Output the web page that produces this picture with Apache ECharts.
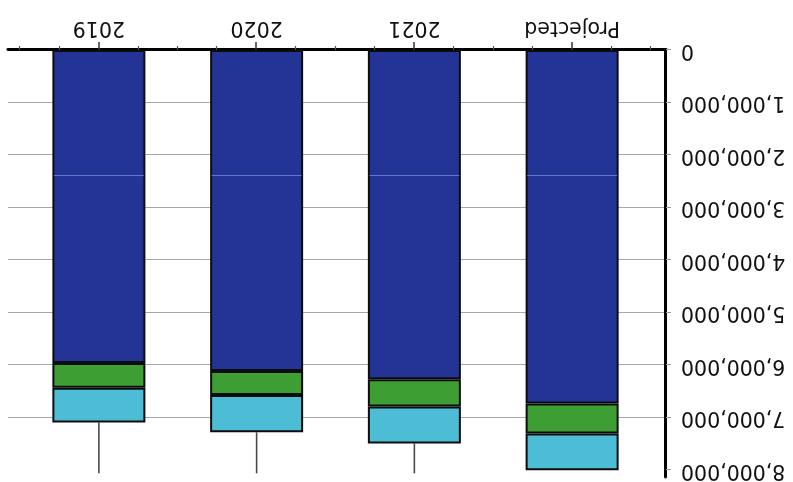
<!DOCTYPE html>
<html>
<head>
<meta charset="utf-8">
<script src="https://cdn.jsdelivr.net/npm/echarts@6/dist/echarts.min.js"></script>
<style>
html,body{margin:0;padding:0;background:#fff;}
#chart{width:793px;height:482px;transform:rotate(180deg);background:#fff;}
</style>
</head>
<body>
<div id="chart"></div>
<script>
// Data (drawn in the chart's own orientation; the whole picture is shown rotated 180°)
const categories = ['Projected', '2021', '2020', '2019'];
const blueValues  = [6730000, 6270000, 6110000, 5960000];
const greenValues = [570000, 520000, 460000, 470000];
const cyanValues  = [700000, 700000, 710000, 660000];
const whiskerTop  = [null, 8060000, 8060000, 8060000];
const faintLineValue = [2390000, 2390000, 2390000, 2390000];
const yTicks = [0, 1000000, 2000000, 3000000, 4000000, 5000000, 6000000, 7000000, 8000000];

const idx = categories.map((c, i) => i);
const totals = idx.map(i => blueValues[i] + greenValues[i] + cyanValues[i]);
const minorTicks = [];
idx.forEach(i => { minorTicks.push(i - 0.5, i - 0.25, i + 0.25); });
minorTicks.push(categories.length - 0.5);

const FONT = 'DejaVu Sans';
const FS = 20.5;
const Y_MAX = 8130000;
const X_MIN = -0.595, X_MAX = 3.576;
const barStyle = (color) => ({ color: color, borderColor: '#0d0d0d', borderWidth: 2 });

const chart = echarts.init(document.getElementById('chart'), null, { renderer: 'canvas' });
chart.setOption({
  animation: false,
  backgroundColor: '#fff',
  grid: [
    { left: 127, right: 8, top: 5, bottom: 50, containLabel: false, outerBoundsMode: 'none' },
    { left: 142, right: 20, top: 5, bottom: 50, containLabel: false, outerBoundsMode: 'none' }
  ],
  xAxis: [
    {
      type: 'value', gridIndex: 0, min: X_MIN, max: X_MAX, position: 'bottom',
      axisLine: { show: true, onZero: false, lineStyle: { color: '#000', width: 3 } },
      axisTick: { show: true, length: 8, customValues: idx, lineStyle: { color: '#333', width: 1.5 } },
      axisLabel: { customValues: idx, formatter: v => categories[Math.round(v)], fontSize: FS, fontFamily: FONT, color: '#111', margin: 12 },
      splitLine: { show: false }
    },
    {
      type: 'value', gridIndex: 0, min: X_MIN, max: X_MAX, position: 'bottom', offset: 0,
      axisLine: { show: false, onZero: false },
      axisTick: { show: true, length: 4, customValues: minorTicks, lineStyle: { color: '#555', width: 1.2 } },
      axisLabel: { show: false },
      splitLine: { show: false }
    },
    {
      type: 'category', gridIndex: 1, data: categories, position: 'bottom',
      axisLine: { show: false }, axisTick: { show: false }, axisLabel: { show: false }, splitLine: { show: false }
    }
  ],
  yAxis: [
    {
      type: 'value', gridIndex: 0, min: 0, max: Y_MAX, interval: 1000000,
      axisLine: { show: true, onZero: false, lineStyle: { color: '#000', width: 3 } },
      axisTick: { show: true, length: 5, customValues: yTicks, lineStyle: { color: '#999', width: 1 } },
      axisLabel: { customValues: yTicks, formatter: v => v.toLocaleString('en-US'), fontSize: FS, fontFamily: FONT, color: '#111', margin: 15 },
      splitLine: { show: true, showMaxLine: false, showMinLine: false, lineStyle: { color: '#a8a8a8', width: 1 } }
    },
    {
      type: 'value', gridIndex: 1, min: 0, max: Y_MAX, interval: 1000000,
      axisLine: { show: false }, axisTick: { show: false }, axisLabel: { show: false }, splitLine: { show: false }
    }
  ],
  series: [
    { name: 'Blue', type: 'bar', stack: 'total', barWidth: 93, xAxisIndex: 2, yAxisIndex: 1,
      data: blueValues, itemStyle: barStyle('#233396') },
    { name: 'Green', type: 'bar', stack: 'total', barWidth: 93, xAxisIndex: 2, yAxisIndex: 1,
      data: greenValues, itemStyle: barStyle('#3d9e34') },
    { name: 'Cyan', type: 'bar', stack: 'total', barWidth: 93, xAxisIndex: 2, yAxisIndex: 1,
      data: cyanValues, itemStyle: barStyle('#4dbdd6') },
    { name: 'Whisker', type: 'custom', xAxisIndex: 2, yAxisIndex: 1, clip: true, z: 1,
      data: idx.filter(i => whiskerTop[i] != null).map(i => [i, totals[i], whiskerTop[i]]),
      renderItem: (params, api) => {
        const p1 = api.coord([api.value(0), api.value(1)]);
        const p2 = api.coord([api.value(0), api.value(2)]);
        return { type: 'line', shape: { x1: p1[0], y1: p1[1], x2: p2[0], y2: p2[1] },
                 style: { stroke: '#4a4a4a', lineWidth: 1.6 } };
      }
    },
    { name: 'Faint', type: 'custom', xAxisIndex: 2, yAxisIndex: 1, z: 5,
      data: idx.map(i => [i, faintLineValue[i]]),
      renderItem: (params, api) => {
        const p = api.coord([api.value(0), api.value(1)]);
        return { type: 'line', shape: { x1: p[0] - 45, y1: p[1], x2: p[0] + 45, y2: p[1] },
                 style: { stroke: '#6f8fd8', lineWidth: 1, opacity: 0.8 } };
      }
    }
  ]
});
</script>
</body>
</html>
